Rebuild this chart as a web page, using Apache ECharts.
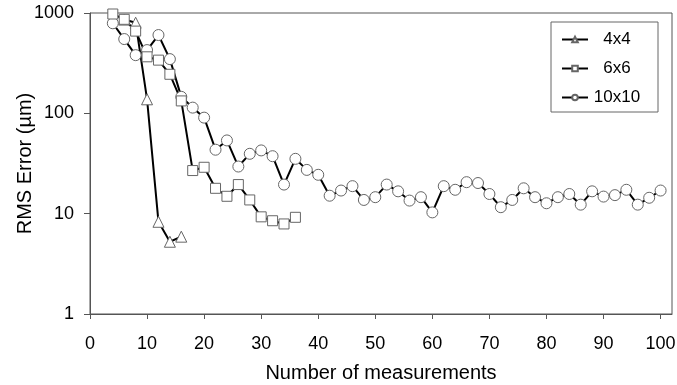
<!DOCTYPE html>
<html>
<head>
<meta charset="utf-8">
<script src="https://cdn.jsdelivr.net/npm/echarts@6/dist/echarts.min.js"></script>
<style>
  html, body { margin: 0; padding: 0; background: #fff; }
  #chart { width: 677px; height: 385px; }
</style>
</head>
<body>
<div id="chart"></div>
<script>
// values (log scale, RMS error in um)
const x4 = [6, 8, 10, 12, 14, 16];
const rms4 = [860, 800, 138, 8.3, 5.25, 5.9];

const x6 = [4, 6, 8, 10, 12, 14, 16, 18, 20, 22, 24, 26, 28, 30, 32, 34, 36];
const rms6 = [977, 865, 660, 366, 339, 245, 133, 26.9, 29, 17.9, 14.9, 19.5, 13.7, 9.3, 8.5, 7.9, 9.2];

const x10 = [4, 6, 8, 10, 12, 14, 16, 18, 20, 22, 24, 26, 28, 30, 32, 34, 36, 38, 40,
  42, 44, 46, 48, 50, 52, 54, 56, 58, 60, 62, 64, 66, 68, 70, 72, 74, 76, 78, 80,
  82, 84, 86, 88, 90, 92, 94, 96, 98, 100];
const rms10 = [790, 550, 380, 427, 603, 347, 146, 114, 90.6, 43.4, 53.7, 29.5, 39.5, 42.7, 37.4, 19.5, 35.2, 27.3, 24.4,
  15.1, 17.0, 18.8, 13.7, 14.6, 19.5, 16.7, 13.5, 14.6, 10.3, 18.8, 17.3, 20.6, 20.2, 15.7, 11.6, 13.7, 17.9, 14.6, 12.7,
  14.6, 15.7, 12.3, 16.7, 14.8, 15.3, 17.3, 12.3, 14.4, 17.0];

const names = ['4x4', '6x6', '10x10'];

function pairs(xs, ys) {
  return xs.map((x, i) => [x, ys[i]]);
}

const font = 'Liberation Sans, Arial, sans-serif';

function makeSeries(name, data, symbol, size) {
  return {
    name: name,
    type: 'line',
    data: data,
    symbol: symbol,
    symbolSize: size,
    showAllSymbol: true,
    lineStyle: { color: '#000', width: 2 },
    itemStyle: { color: '#fff', borderColor: '#666', borderWidth: 1 },
    emphasis: { disabled: true },
    animation: false
  };
}

const chart = echarts.init(document.getElementById('chart'), null, { renderer: 'canvas' });

chart.setOption({
  backgroundColor: '#fff',
  animation: false,
  grid: {
    left: 90, right: 5, top: 13, bottom: 71,
    outerBoundsMode: 'none',
    containLabel: false,
    show: true, borderColor: '#555', borderWidth: 1
  },
  legend: {
    data: names,
    orient: 'vertical',
    right: 19,
    top: 22,
    padding: [9, 17, 6, 10],
    itemWidth: 26,
    itemHeight: 7,
    itemGap: 12,
    borderColor: '#666',
    borderWidth: 1,
    backgroundColor: '#fff',
    formatter: n => '{t|' + n + '}',
    textStyle: {
      color: '#000',
      fontFamily: font,
      fontSize: 17,
      rich: { t: { width: 48, lineHeight: 18, align: 'center', fontSize: 17, fontFamily: font } }
    }
  },
  xAxis: {
    type: 'value',
    min: 0,
    max: 102,
    interval: 10,
    name: 'Number of measurements',
    nameLocation: 'middle',
    nameGap: 49,
    nameMoveOverlap: false,
    nameTextStyle: { color: '#000', fontFamily: font, fontSize: 20 },
    axisLine: { onZero: false, lineStyle: { color: '#555', width: 1 } },
    axisTick: { length: 5, lineStyle: { color: '#555' } },
    axisLabel: {
      color: '#000', fontFamily: font, fontSize: 18, margin: 21,
      showMaxLabel: false,
      formatter: v => (v % 10 === 0 ? String(v) : '')
    },
    splitLine: { show: false }
  },
  yAxis: {
    type: 'log',
    logBase: 10,
    min: 1,
    max: 1000,
    name: 'RMS Error (µm)',
    nameLocation: 'middle',
    nameGap: 55,
    nameMoveOverlap: false,
    nameTextStyle: { color: '#000', fontFamily: font, fontSize: 20 },
    axisLine: { lineStyle: { color: '#555', width: 1 } },
    axisTick: { length: 6, lineStyle: { color: '#555' } },
    axisLabel: {
      color: '#000', fontFamily: font, fontSize: 18, margin: 16,
      formatter: v => String(Math.round(v))
    },
    minorTick: { show: false },
    splitLine: { show: false }
  },
  series: [
    makeSeries('10x10', pairs(x10, rms10), 'circle', 11),
    makeSeries('4x4', pairs(x4, rms4), 'triangle', 11),
    makeSeries('6x6', pairs(x6, rms6), 'rect', 10)
  ]
});
</script>
</body>
</html>
